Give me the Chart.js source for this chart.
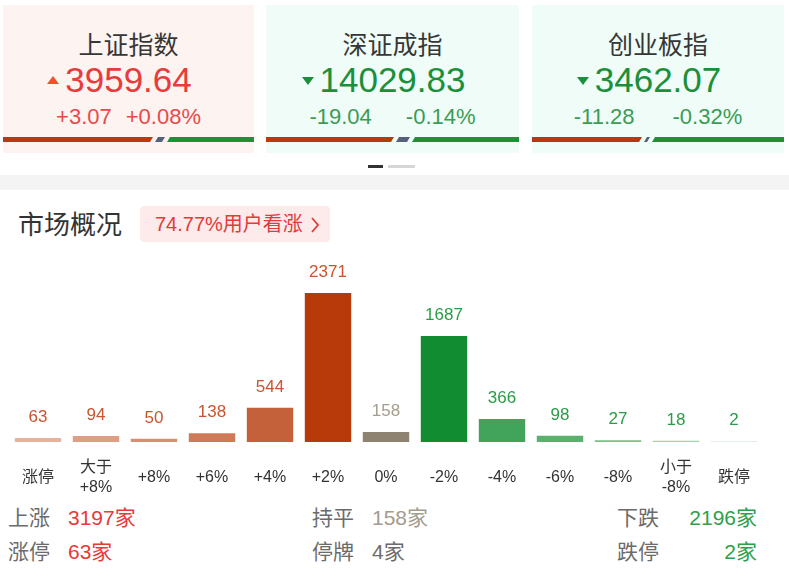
<!DOCTYPE html>
<html>
<head>
<meta charset="utf-8">
<script src="https://cdn.jsdelivr.net/npm/chart.js@4"></script>
<style>
  html, body { margin: 0; padding: 0; background: #fff; }
  body { width: 789px; height: 577px; position: relative; overflow: hidden;
         font-family: "Liberation Sans", "Noto Sans CJK SC", sans-serif; }
  .card { position: absolute; top: 5px; height: 148px; }
  .card.up { background: #fdf3f1; }
  .card.down { background: #effcf7; }
  .card .name { position: absolute; left: 0; right: 0; top: 25px; line-height: 30px; text-align: center;
                font-size: 25px; color: #363636; }
  .card .val { position: absolute; left: 0; right: 0; top: 55px; line-height: 40px; text-align: center; font-size: 35px; }
  .card .val span { position: relative; }
  .card .val span::before { content: ''; position: absolute; right: 100%; margin-right: 6px; top: 16px;
                            width: 0; height: 0; border-left: 6px solid transparent; border-right: 6px solid transparent; }
  .card.up .val { color: #e63c3c; }
  .card.up .val span::before { border-bottom: 8px solid #f0512a; }
  .card.down .val { color: #1b8f3a; }
  .card.down .val span::before { border-top: 8px solid #1b8f3a; top: 17px; }
  .card .chg { position: absolute; left: 0; right: 0; top: 99px; line-height: 26px; text-align: center; font-size: 22px; }
  .card.up .chg { color: #e64b4b; }
  .card.down .chg { color: #3a9c55; }
  .card .bar { position: absolute; left: 0; right: 0; top: 132px; height: 5px; display: flex; }
  .bar .r { background: #b83a0a; clip-path: polygon(0 0, 100% 0, calc(100% - 3px) 100%, 0 100%); }
  .bar .g { background: #1f9038; clip-path: polygon(3px 0, 100% 0, 100% 100%, 0 100%); flex: 1; }
  .bar .f { background: #56607a; clip-path: polygon(3px 0, 100% 0, calc(100% - 3px) 100%, 0 100%); margin: 0 2px; }
  .dots { position: absolute; top: 165px; height: 3px; }
  .band { position: absolute; left: 0; right: 0; top: 175px; height: 15px; background: #f4f4f4; }
  .title { position: absolute; left: 18px; top: 208px; line-height: 34px; font-size: 26px; color: #333; }
  .pill { position: absolute; left: 140px; top: 206px; width: 190px; height: 36px; border-radius: 4px;
          background: #fdeaea; color: #e23b3b; font-size: 20px; line-height: 36px; }
  .pill .t { position: absolute; left: 15px; }
  .pill svg { position: absolute; left: 170px; top: 11px; }
  .stat { position: absolute; font-size: 21px; line-height: 28px; }
  .lab { color: #6b6b6b; }
  #wrap { position: absolute; left: 9px; top: 248px; width: 754px; height: 252px; }
</style>
</head>
<body>
<div id="cards"></div>
<div class="dots" style="left:368px;width:15px;background:#333;"></div>
<div class="dots" style="left:388px;width:27px;background:#d6d6d6;"></div>
<div class="band"></div>
<div class="title">市场概况</div>
<div class="pill"><span class="t">74.77%用户看涨</span>
  <svg width="10" height="16" viewBox="0 0 10 16"><path d="M2 1 L8 8 L2 15" fill="none" stroke="#e23b3b" stroke-width="1.8"/></svg>
</div>
<div id="stats"></div>
<div id="wrap"><canvas id="market"></canvas></div>
<script>
// header indices
const indexNames = ['上证指数', '深证成指', '创业板指']
const indexValues = ['3959.64', '14029.83', '3462.07']
const indexChanges = ['+3.07', '-19.04', '-11.28']
const indexPercents = ['+0.08%', '-0.14%', '-0.32%']

// distribution of stocks by change
const categories = ['涨停', ['大于', '+8%'], '+8%', '+6%', '+4%', '+2%', '0%', '-2%', '-4%', '-6%', '-8%', ['小于', '-8%'], '跌停']
const counts = [63, 94, 50, 138, 544, 2371, 158, 1687, 366, 98, 27, 18, 2]

// summary rows
const summaryLabels = [['上涨', '持平', '下跌'], ['涨停', '停牌', '跌停']]
const summaryValues = [['3197家', '158家', '2196家'], ['63家', '4家', '2家']]

const barColors = ['#e8b39d', '#dc9e84', '#d78f74', '#cf7a56', '#c4613a', '#b83a0a', '#8e8270',
                   '#128c30', '#42a45a', '#5cb06e', '#7bbf89', '#a3d3ae', '#e2f1e6']
const labelColors = ['#c9542e', '#c9542e', '#c9542e', '#c9542e', '#c9542e', '#c9542e', '#a59d8d',
                     '#2b9b45', '#2b9b45', '#2b9b45', '#2b9b45', '#2b9b45', '#2b9b45']

// cards
const cardBoxes = [[3, 251, 'up', [150, 10], 14], [266, 253, 'down', [128, 14], 34], [532, 252, 'down', [110, 6], 38]]
const cardsEl = document.getElementById('cards')
cardBoxes.forEach((c, i) => {
  const d = document.createElement('div')
  d.className = 'card ' + c[2]
  d.style.left = c[0] + 'px'
  d.style.width = c[1] + 'px'
  d.innerHTML = `<div class="name">${indexNames[i]}</div>
    <div class="val"><span>${indexValues[i]}</span></div>
    <div class="chg">${indexChanges[i]}<span style="display:inline-block;width:${c[4]}px"></span>${indexPercents[i]}</div>
    <div class="bar"><div class="r" style="width:${c[3][0]}px"></div><div class="f" style="width:${c[3][1]}px"></div><div class="g"></div></div>`
  cardsEl.appendChild(d)
})

// summary
const statsEl = document.getElementById('stats')
const colX = [[8, 68], [312, 372], [617, null]]
const rowY = [504, 538]
const valColors = ['#e8393a', '#a39c8d', '#2ea04a']
summaryLabels.forEach((row, r) => {
  row.forEach((lab, k) => {
    let s = document.createElement('div')
    s.className = 'stat lab'
    s.style.left = colX[k][0] + 'px'
    s.style.top = rowY[r] + 'px'
    s.textContent = lab
    statsEl.appendChild(s)
    s = document.createElement('div')
    s.className = 'stat'
    s.style.top = rowY[r] + 'px'
    if (colX[k][1] === null) { s.style.right = (789 - 757) + 'px' } else { s.style.left = colX[k][1] + 'px' }
    s.style.color = (r === 1 && k === 1) ? '#6b6b6b' : valColors[k]
    s.textContent = summaryValues[r][k]
    statsEl.appendChild(s)
  })
})

const valueLabels = {
  id: 'valueLabels',
  afterDatasetsDraw(chart) {
    const ctx = chart.ctx
    const meta = chart.getDatasetMeta(0)
    ctx.save()
    ctx.font = '17px "Liberation Sans", "Noto Sans CJK SC"'
    ctx.textAlign = 'center'
    ctx.textBaseline = 'middle'
    meta.data.forEach((bar, i) => {
      ctx.fillStyle = labelColors[i]
      ctx.fillText(String(counts[i]), bar.x, bar.y - 21)
    })
    ctx.restore()
  }
}

new Chart(document.getElementById('market'), {
  type: 'bar',
  data: {
    labels: categories,
    datasets: [{
      data: counts,
      backgroundColor: barColors,
      categoryPercentage: 1,
      barPercentage: 0.8,
      minBarLength: 1,
      borderWidth: 0
    }]
  },
  options: {
    responsive: true,
    maintainAspectRatio: false,
    animation: false,
    layout: { padding: { top: 45, left: 0, right: 0, bottom: 0 } },
    plugins: { legend: { display: false }, tooltip: { enabled: false } },
    scales: {
      y: { display: false, min: 0, max: 2371 },
      x: {
        grid: { display: false, drawTicks: false },
        border: { display: false },
        afterFit: (axis) => {
          axis.height = 58
          axis.paddingLeft = 0
          axis.paddingRight = 0
        },
        ticks: {
          color: '#333',
          padding: 26,
          crossAlign: 'center',
          maxRotation: 0,
          autoSkip: false,
          font: { size: 16, family: '"Liberation Sans", "Noto Sans CJK SC"', lineHeight: 1.2 }
        }
      }
    }
  },
  plugins: [valueLabels]
})
</script>
</body>
</html>
